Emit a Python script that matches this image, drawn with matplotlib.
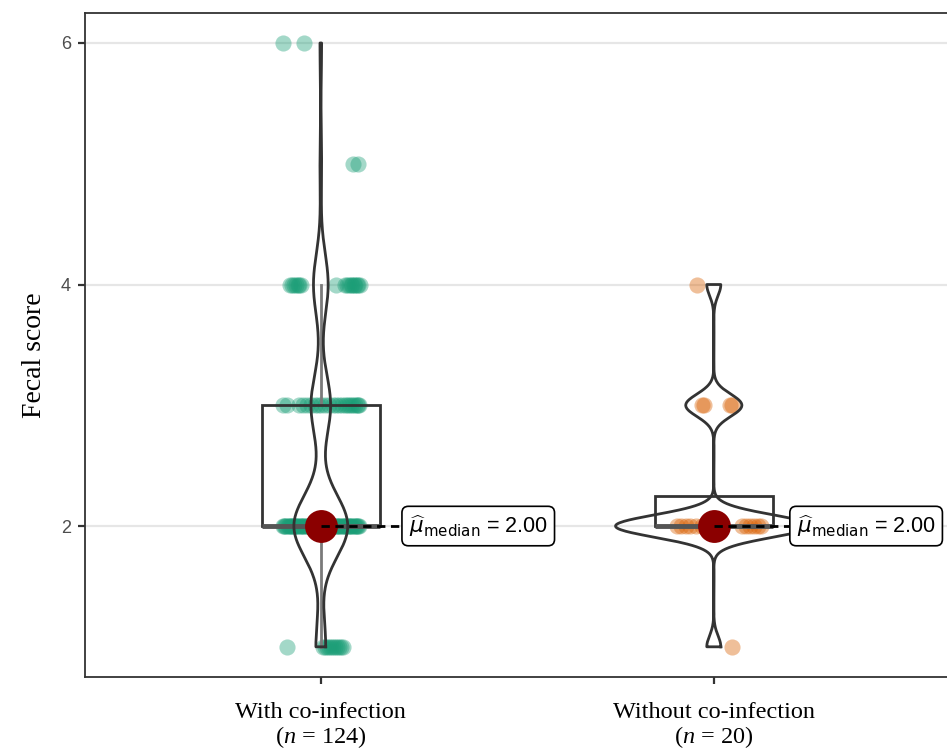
import numpy as np
import matplotlib
matplotlib.use("Agg")
import matplotlib.pyplot as plt
from matplotlib.patches import Rectangle

# ---------------- data ----------------
categories = ["With co-infection", "Without co-infection"]
group_n = [124, 20]
score_levels = [1, 2, 3, 4, 5, 6]
counts_with = [12, 66, 24, 18, 2, 2]
counts_without = [1, 14, 4, 1, 0, 0]
medians = [2.00, 2.00]
y_ticks = [2, 4, 6]
y_label = "Fecal score"

# horizontal jitter of the points (pixels; 393 px = one category step)
jitter_with = {
    1: [-34, 2, 4, 6, 8, 10, 12, 14, 16, 18, 20, 22],
    2: [-38, -37, -36, -35, -33, -32, -31, -30, -29, -28, -27, -26, -25, -24, -23, -21,
        -20, -19, -18, -17, -15, -14, -13, -12, -11, -9, -8, -7, -6, -5, -3, -2, -1, 0,
        1, 3, 4, 5, 6, 7, 9, 10, 11, 12, 13, 15, 16, 17, 18, 19, 21, 22, 23, 24, 25, 27,
        28, 29, 30, 31, 33, 34, 35, 36, 37, 38],
    3: [-38, -34, -22, -18, -14, -10, -6, -3, 0, 4, 8, 12, 15, 18, 21, 24, 26, 28, 30, 32,
        34, 36, 37, 38],
    4: [-31, -29, -27, -25, -23, -22, -20, 15, 24, 26, 28, 30, 31, 33, 34, 36, 37, 39],
    5: [32, 37],
    6: [-38, -17],
}
jitter_without = {
    1: [18],
    2: [-37, -33, -28, -24, -18, -12, -5, 5, 28, 32, 36, 40, 44, 47],
    3: [-12, -10, 16, 18],
    4: [-17],
}
PX_PER_CAT = 393.0
label_offsets = [0.224, 0.211]

point_colors = ["#1B9E77", "#D95F02"]
edge_col = "#333333"

# ---------------- helpers ----------------
def expand(counts):
    return np.repeat(np.array(score_levels, float), counts)

def nrd0(x):
    sd = np.std(x, ddof=1)
    q75, q25 = np.percentile(x, [75, 25])
    lo = min(sd, (q75 - q25) / 1.34)
    if lo == 0:
        lo = sd if sd > 0 else 1.0
    return 0.9 * lo * len(x) ** -0.2

def kde(x, grid, bw):
    z = (grid[:, None] - x[None, :]) / bw
    return np.exp(-0.5 * z ** 2).sum(1) / (len(x) * bw * np.sqrt(2 * np.pi))

data = [expand(counts_with), expand(counts_without)]
jitters = [jitter_with, jitter_without]
positions = [1, 2]

# ---------------- figure ----------------
plt.rcParams["mathtext.fontset"] = "custom"
plt.rcParams["mathtext.rm"] = "Liberation Serif"
plt.rcParams["mathtext.it"] = "Liberation Serif:italic"

fig = plt.figure(figsize=(9.47, 7.49), dpi=100)
ax = fig.add_axes([85 / 947, 72 / 749, 864.6 / 947, 664.2 / 749])
ax.set_xlim(0.4, 2.6)
ax.set_ylim(0.75, 6.25)

# grid
for yv in y_ticks:
    ax.axhline(yv, color="#E6E6E6", lw=1.6, zorder=0)

# violins (density, scale = area)
grids, dens = [], []
for x in data:
    g = np.linspace(x.min(), x.max(), 512)
    grids.append(g)
    dens.append(kde(x, g, nrd0(x)))
dmax = max(d.max() for d in dens)

for pos, x, g, d, jit, col in zip(positions, data, grids, dens, jitters, point_colors):
    # jittered points
    xs, ys = [], []
    for lvl, offs in jit.items():
        for o in offs:
            xs.append(pos + o / PX_PER_CAT)
            ys.append(lvl)
    ax.scatter(xs, ys, s=135, color=col, alpha=0.4, linewidths=0, zorder=2)

    # box plot
    q1, med, q3 = np.percentile(x, [25, 50, 75])
    iqr = q3 - q1
    up = x[x <= q3 + 1.5 * iqr].max()
    lo = x[x >= q1 - 1.5 * iqr].min()
    if up > q3:
        ax.plot([pos, pos], [q3, up], color="#7a7a7a", lw=2, zorder=3)
    if lo < q1:
        ax.plot([pos, pos], [q1, lo], color="#7a7a7a", lw=2, zorder=3)
    ax.add_patch(Rectangle((pos - 0.15, q1), 0.3, q3 - q1, fill=False,
                           edgecolor=edge_col, lw=2, zorder=3))
    ax.plot([pos - 0.15, pos + 0.15], [med, med], color="#555555", lw=3.5,
            solid_capstyle="butt", zorder=3)

    # violin outline
    w = 0.25 * d / dmax
    vx = np.concatenate([pos + w, (pos - w)[::-1], [pos + w[0]]])
    vy = np.concatenate([g, g[::-1], [g[0]]])
    ax.plot(vx, vy, color=edge_col, lw=2, zorder=4)

# centrality points and labels
for pos, m, off in zip(positions, medians, label_offsets):
    ax.scatter([pos], [m], s=560, color="#8B0000", zorder=5, linewidths=0)
    lab_x = pos + off
    ax.plot([pos, lab_x], [m, m], color="black", lw=2, ls=(0, (3, 2)), zorder=6)
    ax.text(lab_x, m, r"$\widehat{\mu}_{\mathrm{median}}$ = " + f"{m:.2f}",
            ha="left", va="center", fontsize=15.5, family="Liberation Sans",
            math_fontfamily="dejavusans", zorder=7,
            bbox=dict(boxstyle="round,pad=0.32,rounding_size=0.3",
                      facecolor="white", edgecolor="black", lw=1.2))

# axes styling
ax.set_yticks(y_ticks)
ax.set_yticklabels([str(v) for v in y_ticks], fontsize=13,
                   family="Liberation Sans", color="#4D4D4D")
ax.set_xticks(positions)
ax.set_xticklabels([f"{c}\n($n$ = {n})" for c, n in zip(categories, group_n)],
                   fontsize=17.5, family="Liberation Serif", color="black")
for t in ax.get_xticklabels():
    t.set_linespacing(1.05)
ax.tick_params(axis="both", length=5, width=1.6, color=edge_col)
ax.tick_params(axis="y", pad=5)
ax.tick_params(axis="x", pad=13)
for sp in ax.spines.values():
    sp.set_color(edge_col)
    sp.set_linewidth(1.3)

ax.set_ylabel(y_label, fontsize=20, family="Liberation Serif")
ax.yaxis.set_label_coords(-0.044, 0.485)

fig.savefig("out.png", dpi=100)
